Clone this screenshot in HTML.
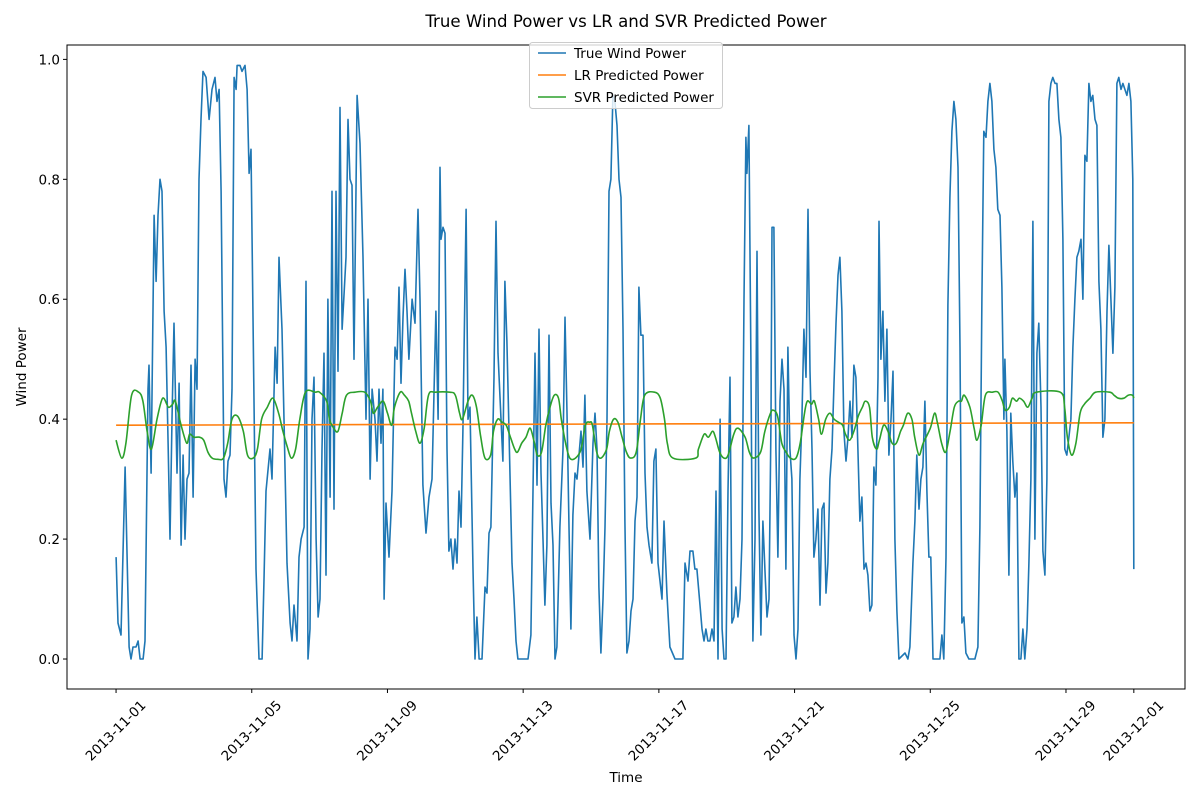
<!DOCTYPE html>
<html><head><meta charset="utf-8"><style>
body{margin:0;background:#fff;}
svg{display:block;font-family:"DejaVu Sans","Liberation Sans",sans-serif;}
</style></head><body>
<svg id="chart" width="1200" height="800" viewBox="0 0 1200 800" xmlns="http://www.w3.org/2000/svg">
<rect width="1200" height="800" fill="#fff"/>
<text x="626" y="27" font-size="16.6" text-anchor="middle" fill="#000">True Wind Power vs LR and SVR Predicted Power</text>
<text x="626" y="782" font-size="13.5" text-anchor="middle">Time</text>
<text x="26" y="367" font-size="13.5" text-anchor="middle" transform="rotate(-90 26 367)">Wind Power</text>
<g id="plot"></g>
<rect x="67" y="45" width="1118" height="644" fill="none" stroke="#000" stroke-width="1"/>
<g>
<rect x="529.5" y="42.5" width="193" height="66" rx="3" fill="#fff" fill-opacity="0.8" stroke="#ccc"/>
<g><line x1="538" y1="53" x2="566" y2="53" stroke="#1f77b4" stroke-width="1.6"/><text x="574" y="58" font-size="13.5">True Wind Power</text></g>
<g><line x1="538" y1="75" x2="566" y2="75" stroke="#ff7f0e" stroke-width="1.6"/><text x="574" y="80" font-size="13.5">LR Predicted Power</text></g>
<g><line x1="538" y1="97" x2="566" y2="97" stroke="#2ca02c" stroke-width="1.6"/><text x="574" y="102" font-size="13.5">SVR Predicted Power</text></g>
</g>
</svg>
<script>
// hours since 2013-11-01 00:00
const trueHours=[0,1.4,3.5,6.4,9.2,10.6,12,14.1,15.6,17,19.1,20.5,22.6,23.3,24.8,26.9,28.3,29.7,31.1,32.5,34,35.4,36.8,38.2,39.6,41,43.1,44.6,46,47.4,48.8,50.2,51.6,53,54.5,55.9,57.3,58.7,60.1,61.5,63.7,65.8,67.9,70,71.4,72.9,74.3,76.4,77.8,79.2,80.6,82,83.5,84.9,85.6,87.7,89.1,91.2,92.7,94.1,95.5,96.9,99,101.1,103.3,104.7,106.1,108.9,110.3,112.5,113.9,115.3,117.4,118.8,120.9,123.1,124.5,125.9,128,129.4,130.9,133,134.4,135.8,137.2,138.6,140,141.5,142.9,144.3,145.7,147.1,148.5,149.9,151.4,152.8,154.2,155.6,157,158.4,159.9,161.3,162.7,164.1,165.5,166.9,168.3,170.5,172.6,174.7,176.8,178.2,179.7,181.1,183.2,184.6,186,187.4,188.8,189.6,191,193.1,195.2,197.3,198.8,200.2,201.6,203,204.4,205.8,207.2,209.4,211.5,213.6,215,217.1,219.3,221.4,223.5,226.3,227.8,229.2,229.9,231.3,232.7,234.1,235.5,236.9,238.4,239.8,241.2,242.6,244,245.4,247.6,249,250.4,252.5,253.9,255.3,256.8,258.9,261,262.4,263.8,265.2,267.4,268.8,270.2,272.3,273.7,275.1,276.5,278,280.1,281.5,282.9,284.3,291.4,293.5,294.9,296.4,297.8,299.2,300.6,302,303.4,304.8,306.3,307.7,309.1,310.5,311.9,314,316.2,317.6,319,320.4,321.8,323.2,324.7,326.1,327.5,328.9,330.3,331.7,333.1,335.3,337.4,338.8,340.2,341.6,343,344.5,345.9,347.3,348.7,350.1,351.5,352.9,354.4,355.8,357.2,358.6,360,361.4,362.9,364.3,365.7,367.1,368.5,369.9,371.3,372.8,374.2,375.6,377,379.1,380.5,381.9,383.4,384.8,386.2,387.6,389.7,391.8,395.4,401,402.5,404.6,406,408.1,409.5,410.9,413.1,414.5,415.9,417.3,418.7,420.1,421.6,423,424.4,425.8,427.3,428.7,430.1,431.5,432.9,434.3,435.7,437.1,438.5,439.9,441.4,442.8,444.2,445.6,446.3,447.7,449.1,450.5,452,453.4,454.8,456.2,457.6,459,460.5,461.9,463.3,464,465.4,466.8,468.2,469.7,471.1,472.5,473.9,475.3,476.7,478.1,479.6,481,482.4,483.8,485.2,486.6,488.1,489.5,490.9,492.3,493.7,495.1,496.5,498,499.4,500.8,502.2,503.6,505,506.5,507.9,509.3,510.7,512.1,513.5,514.9,516.4,517.8,519.2,520.6,522,523.4,524.8,526.2,527.6,529.1,530.5,531.9,533.3,534.7,536.1,537.5,539,539.7,541.1,542.5,543.9,545.3,546.7,548.2,549.6,551,552.4,553.8,558.1,560.2,561.6,563.7,565.1,566.5,568,569.4,570.8,572.2,573.6,575,576.4,577.9,582.8,584.2,585.6,587.1,588.5,589.9,591.3,592.7,594.1,595.6,597,598.4,599.8,601.2,603.3,607.6,609.7,611.1,612.5,613.9,615.4,616.8,618.2,619.6,621,622.4,623.8,625.3,626.7,628.1,628.8,630.2,631.6,633,634.4,635.9,637.3,638.7,640.1,641.5,642.9,644.4,645.8,647.2,648.6,650,651.4,652.8,654.3,655.7,657.1,658.5,659.9,661.3,662.7,664.2,665.6,667,668.4,669.8,671.2,672.6,674.1,675.5,676.9,678.3,679.7,681.1,682.6,684,685.4,686.8,688.2,689.6,691,692.5,693.9,695.3,696.7,698.1,699.5,701,702.4,703.8,705.2,706.6,708,709.4,710.9,712.3,713.7,715.1,716.5,717.9,719.3,720];
const trueValues=[0.17,0.06,0.04,0.32,0.02,0,0.02,0.02,0.03,0,0,0.03,0.45,0.49,0.31,0.74,0.63,0.74,0.8,0.78,0.58,0.52,0.36,0.2,0.4,0.56,0.31,0.46,0.19,0.34,0.2,0.3,0.31,0.49,0.27,0.5,0.45,0.8,0.9,0.98,0.97,0.9,0.95,0.97,0.93,0.95,0.78,0.3,0.27,0.33,0.34,0.45,0.97,0.95,0.99,0.99,0.98,0.99,0.95,0.81,0.85,0.57,0.15,0,0,0.14,0.28,0.35,0.3,0.52,0.46,0.67,0.55,0.4,0.16,0.06,0.03,0.09,0.03,0.17,0.2,0.22,0.63,0,0.05,0.4,0.47,0.2,0.07,0.1,0.35,0.51,0.14,0.6,0.27,0.78,0.25,0.78,0.48,0.92,0.55,0.61,0.67,0.9,0.8,0.79,0.5,0.94,0.86,0.67,0.4,0.6,0.3,0.45,0.4,0.33,0.45,0.36,0.45,0.1,0.26,0.17,0.28,0.52,0.5,0.62,0.46,0.57,0.65,0.58,0.5,0.6,0.56,0.75,0.6,0.29,0.21,0.27,0.3,0.58,0.4,0.82,0.7,0.72,0.71,0.35,0.18,0.2,0.15,0.2,0.16,0.28,0.22,0.38,0.75,0.4,0.42,0.15,0,0.07,0,0,0.12,0.11,0.21,0.22,0.47,0.73,0.51,0.4,0.33,0.63,0.53,0.38,0.16,0.1,0.03,0,0,0.04,0.27,0.51,0.29,0.55,0.31,0.2,0.09,0.19,0.54,0.26,0.19,0,0.02,0.22,0.35,0.57,0.41,0.22,0.05,0.24,0.31,0.3,0.34,0.38,0.32,0.44,0.28,0.2,0.36,0.41,0.35,0.12,0.01,0.1,0.22,0.4,0.78,0.8,0.94,0.93,0.89,0.8,0.77,0.55,0.23,0.01,0.03,0.08,0.1,0.23,0.27,0.62,0.54,0.54,0.31,0.22,0.19,0.16,0.33,0.35,0.16,0.13,0.1,0.23,0.11,0.02,0,0,0.16,0.13,0.18,0.18,0.15,0.15,0.09,0.05,0.03,0.05,0.03,0.03,0.05,0.03,0.28,0,0.4,0.05,0,0,0.28,0.47,0.06,0.07,0.12,0.07,0.1,0.2,0.6,0.87,0.81,0.89,0.5,0.03,0.2,0.68,0.25,0.04,0.23,0.15,0.07,0.1,0.4,0.72,0.72,0.35,0.17,0.43,0.5,0.45,0.15,0.52,0.35,0.3,0.04,0,0.05,0.3,0.4,0.55,0.47,0.75,0.48,0.35,0.17,0.2,0.25,0.09,0.25,0.26,0.11,0.16,0.3,0.35,0.46,0.56,0.64,0.67,0.58,0.38,0.33,0.37,0.43,0.37,0.49,0.47,0.35,0.23,0.27,0.15,0.16,0.14,0.08,0.09,0.32,0.29,0.47,0.73,0.5,0.58,0.43,0.55,0.34,0.4,0.48,0.2,0.08,0,0.01,0,0.02,0.16,0.23,0.34,0.25,0.3,0.32,0.43,0.28,0.17,0.17,0,0,0.04,0,0.17,0.59,0.77,0.88,0.93,0.9,0.82,0.52,0.06,0.07,0.01,0,0,0.02,0.22,0.6,0.88,0.87,0.93,0.96,0.93,0.85,0.82,0.75,0.74,0.62,0.4,0.5,0.38,0.14,0.41,0.33,0.27,0.31,0,0,0.05,0,0.05,0.16,0.3,0.73,0.2,0.51,0.56,0.42,0.18,0.14,0.3,0.93,0.96,0.97,0.96,0.96,0.9,0.87,0.7,0.35,0.34,0.37,0.4,0.52,0.6,0.67,0.68,0.7,0.6,0.84,0.83,0.96,0.93,0.94,0.9,0.89,0.63,0.55,0.37,0.4,0.58,0.69,0.6,0.51,0.62,0.96,0.97,0.95,0.96,0.95,0.94,0.96,0.93,0.8,0.15];
const svrHours=[0,4,7,11,16,19,22,25,29,33,37,40,42,46,50,52,55,59,62,65,68,72,76,79,82,86,90,93,97,100,103,107,111,115,118,121,124,127,130,134,141,144,149,151,154,157,160,163,169,176,180,182,185,189,192,195,197,201,204,207,209,212,215,218,221,226,236,240,243,245,249,252,255,258,261,265,267,270,273,276,279,282,284,287,290,293,296,298,301,304,307,310,313,315,318,321,325,329,332,335,337,340,343,347,349,352,355,358,361,364,368,371,374,381,385,388,390,394,410,412,416,419,422,424,427,430,433,437,440,445,448,451,456,459,463,465,468,471,474,477,481,484,487,489,492,494,497,499,502,505,508,511,514,516,519,522,525,528,530,533,535,538,540,543,546,549,552,555,557,560,563,565,568,571,576,579,581,584,587,590,593,596,598,600,604,607,609,612,615,620,624,627,629,632,634,637,639,642,645,648,651,668,671,673,676,679,682,685,689,693,703,706,709,713,716,719,720];
const svrValues=[0.365,0.335,0.36,0.44,0.445,0.43,0.38,0.35,0.4,0.435,0.42,0.425,0.43,0.39,0.36,0.375,0.37,0.37,0.365,0.345,0.335,0.333,0.335,0.36,0.4,0.405,0.38,0.34,0.335,0.35,0.4,0.42,0.435,0.41,0.38,0.355,0.335,0.35,0.4,0.445,0.445,0.445,0.43,0.4,0.385,0.38,0.41,0.44,0.445,0.445,0.43,0.41,0.42,0.43,0.41,0.39,0.42,0.445,0.44,0.43,0.41,0.38,0.36,0.385,0.44,0.445,0.445,0.44,0.41,0.4,0.43,0.44,0.42,0.37,0.335,0.34,0.38,0.4,0.395,0.39,0.37,0.35,0.345,0.36,0.37,0.385,0.36,0.34,0.345,0.39,0.42,0.44,0.435,0.4,0.36,0.335,0.335,0.35,0.39,0.395,0.39,0.345,0.335,0.35,0.38,0.4,0.395,0.37,0.345,0.335,0.345,0.4,0.44,0.445,0.435,0.4,0.36,0.335,0.335,0.35,0.375,0.37,0.38,0.37,0.345,0.335,0.34,0.375,0.385,0.37,0.345,0.335,0.345,0.38,0.41,0.415,0.405,0.36,0.345,0.335,0.335,0.36,0.41,0.43,0.425,0.43,0.4,0.375,0.4,0.41,0.4,0.395,0.39,0.375,0.365,0.38,0.405,0.42,0.43,0.42,0.37,0.35,0.365,0.39,0.38,0.36,0.36,0.38,0.39,0.41,0.4,0.37,0.34,0.36,0.385,0.41,0.395,0.36,0.345,0.38,0.42,0.43,0.43,0.44,0.42,0.385,0.365,0.39,0.44,0.445,0.445,0.43,0.415,0.42,0.435,0.43,0.435,0.43,0.42,0.435,0.445,0.445,0.42,0.37,0.34,0.36,0.41,0.425,0.435,0.445,0.445,0.44,0.435,0.435,0.44,0.44,0.435];
const lrHours=[0,180,360,540,720];
const lrValues=[0.390,0.391,0.392,0.393,0.394];
const yTicks=[0,0.2,0.4,0.6,0.8,1.0];
const yTickLabels=["0.0","0.2","0.4","0.6","0.8","1.0"];
const xTickHours=[0,96,192,288,384,480,576,672,720];
const xTickLabels=["2013-11-01","2013-11-05","2013-11-09","2013-11-13","2013-11-17","2013-11-21","2013-11-25","2013-11-29","2013-12-01"];

const L=67,R=1185,T=45,B=689;
const xMin=-34.7,xMax=756.2,yMin=-0.05,yMax=1.024;
const xs=h=>L+(h-xMin)/(xMax-xMin)*(R-L);
const ys=v=>B-(v-yMin)/(yMax-yMin)*(B-T);
const NS="http://www.w3.org/2000/svg";
const plot=document.getElementById('plot');
function mk(tag,attrs,parent){const e=document.createElementNS(NS,tag);for(const k in attrs)e.setAttribute(k,attrs[k]);(parent||plot).appendChild(e);return e;}

yTicks.forEach((v,i)=>{
  const g=mk('g',{});
  
  
  mk('line',{x1:L-4,x2:L,y1:ys(v),y2:ys(v),stroke:'#000'},g);
  const t=mk('text',{x:L-7,y:ys(v)+5,'font-size':13.5,'text-anchor':'end'},g);
  t.textContent=yTickLabels[i];
});
xTickHours.forEach((h,i)=>{
  const g=mk('g',{});
  
  
  const x=xs(h);
  mk('line',{x1:x,x2:x,y1:B,y2:B+4,stroke:'#000'},g);
  const t=mk('text',{x:x,y:731,'font-size':13.5,'text-anchor':'middle','dominant-baseline':'central',transform:`rotate(-45 ${x} 731)`},g);
  t.textContent=xTickLabels[i];
});

function linePath(hs,vs){return hs.map((h,i)=>(i?'L':'M')+xs(h).toFixed(1)+','+ys(vs[i]).toFixed(1)).join('');}
function smoothPath(hs,vs){
  const p=hs.map((h,i)=>[xs(h),ys(vs[i])]);
  let d='M'+p[0][0]+','+p[0][1];
  for(let i=0;i<p.length-1;i++){
    const p0=p[Math.max(0,i-1)],p1=p[i],p2=p[i+1],p3=p[Math.min(p.length-1,i+2)];
    const c1x=p1[0]+(p2[0]-p0[0])/6,c1y=p1[1]+(p2[1]-p0[1])/6;
    const c2x=p2[0]-(p3[0]-p1[0])/6,c2y=p2[1]-(p3[1]-p1[1])/6;
    d+=`C${c1x.toFixed(1)},${c1y.toFixed(1)} ${c2x.toFixed(1)},${c2y.toFixed(1)} ${p2[0].toFixed(1)},${p2[1].toFixed(1)}`;
  }
  return d;
}
const tl=mk('path',{d:linePath(trueHours,trueValues),fill:'none',stroke:'#1f77b4','stroke-width':1.6,'stroke-linejoin':'round'});


const lr=mk('path',{d:linePath(lrHours,lrValues),fill:'none',stroke:'#ff7f0e','stroke-width':1.6});


const sv=mk('path',{d:smoothPath(svrHours,svrValues),fill:'none',stroke:'#2ca02c','stroke-width':1.6});


</script>
</body></html>
